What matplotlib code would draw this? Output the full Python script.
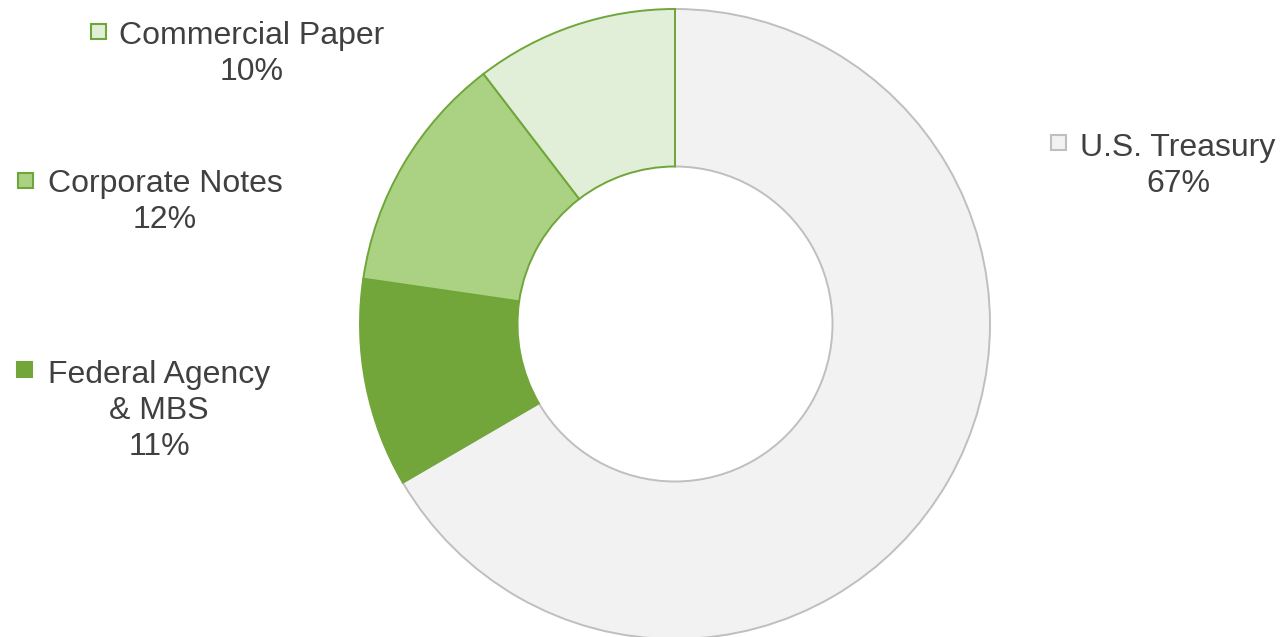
import matplotlib
matplotlib.use("Agg")
import matplotlib.pyplot as plt
from matplotlib.patches import Rectangle

categories = ["U.S. Treasury", "Federal Agency\n& MBS", "Corporate Notes", "Commercial Paper"]
values = [66.6, 10.7, 12.3, 10.4]
face_colors = ["#F2F2F2", "#72A53A", "#ABD283", "#E2EFD8"]
edge_colors = ["#BFBFBF", "#72A53A", "#6FA63A", "#6FA63A"]

# label anchor (center x, first-line baseline y) in pixels, and marker center
label_pos = [(1178, 156), (159, 383), (165, 192), (252, 44)]
marker_pos = [(1058, 142), (24, 369), (25.5, 180), (98.5, 31)]

W, H = 1280, 637
fig = plt.figure(figsize=(W / 100, H / 100), dpi=100)
fig.patch.set_facecolor("white")

cx, cy, r = 675, 324, 315
ax = fig.add_axes([(cx - r) / W, (H - cy - r) / H, 2 * r / W, 2 * r / H])
wedges, _ = ax.pie(values, startangle=90, counterclock=False, colors=face_colors,
                   radius=1.0, wedgeprops=dict(width=0.5, linewidth=1.4))
for w, ec in zip(wedges, edge_colors):
    w.set_edgecolor(ec)
ax.set_xlim(-1.0, 1.0)
ax.set_ylim(-1.0, 1.0)
ax.set_aspect("equal")
ax.axis("off")

ov = fig.add_axes([0, 0, 1, 1])
ov.set_xlim(0, W)
ov.set_ylim(H, 0)
ov.axis("off")

font = "Liberation Sans"
line_h = 36
for cat, val, (lx, ly), (mx, my), fc, ec in zip(categories, values, label_pos, marker_pos,
                                                   face_colors, edge_colors):
    lines = cat.split("\n") + [f"{val:.0f}%"]
    for i, line in enumerate(lines):
        ov.text(lx, ly + i * line_h, line, ha="center", va="baseline", fontsize=23,
                family=font, color="#404040")
    s = 15
    ov.add_patch(Rectangle((mx - s / 2, my - s / 2), s, s, facecolor=fc, edgecolor=ec,
                           linewidth=1.5))

fig.savefig("out.png", dpi=100, facecolor="white")
